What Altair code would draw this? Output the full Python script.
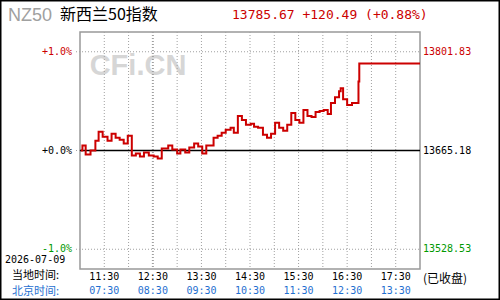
import altair as alt
import pandas as pd

# ---------------- data ----------------
BASE = 13665.18
times = ["11:01", "11:03", "11:07", "11:13", "11:19", "11:23", "11:28", "11:34", "11:39", "11:44",
         "11:49", "11:54", "11:59", "12:04", "12:09", "12:14", "12:19", "12:25", "12:31", "12:36",
         "12:41", "12:49", "12:54", "13:00", "13:04", "13:10", "13:15", "13:21", "13:26", "13:31",
         "13:36", "13:45", "13:50", "13:55", "14:00", "14:06", "14:10", "14:15", "14:20", "14:25",
         "14:31", "14:35", "14:40", "14:46", "14:51", "14:56", "15:01", "15:06", "15:11", "15:16",
         "15:21", "15:26", "15:31", "15:36", "15:41", "15:46", "15:51", "15:56", "16:01", "16:06",
         "16:10", "16:15", "16:20", "16:22", "16:25", "16:30", "16:36", "16:44", "16:45", "18:00"]
pct = [0.00, 0.05, -0.04, 0.00, 0.10, 0.19, 0.14, 0.10, 0.17, 0.13,
       0.11, 0.07, 0.15, -0.05, -0.03, -0.06, -0.02, -0.05, -0.06, -0.08,
       0.02, 0.05, 0.01, -0.03, 0.01, -0.02, 0.03, 0.07, 0.04, -0.03,
       0.05, 0.13, 0.15, 0.18, 0.21, 0.23, 0.18, 0.35, 0.31, 0.26,
       0.27, 0.24, 0.23, 0.16, 0.13, 0.17, 0.28, 0.23, 0.20, 0.26,
       0.38, 0.31, 0.28, 0.41, 0.35, 0.34, 0.39, 0.40, 0.41, 0.37,
       0.48, 0.54, 0.60, 0.63, 0.52, 0.46, 0.48, 0.70, 0.88, 0.88]

grid_times = ["11:30", "12:00", "12:30", "13:00", "13:30", "14:00", "14:30",
              "15:00", "15:30", "16:00", "16:30", "17:00", "17:30"]
tick_local = ["11:30", "12:30", "13:30", "14:30", "15:30", "16:30", "17:30"]
tick_beijing = ["07:30", "08:30", "09:30", "10:30", "11:30", "12:30", "13:30"]

y_levels = [1.0, 0.0, -1.0]
y_left_labels = ["+1.0%", "+0.0%", "-1.0%"]
y_right_labels = ["13801.83", "13665.18", "13528.53"]
y_label_colors = ["#cc0000", "#000000", "#009900"]

title_code = "NZ50"
title_name = "新西兰50指数"
title_quote = "13785.67 +120.49 (+0.88%)"
date_text = "2026-07-09"


def to_min(s):
    h, m = s.split(":")
    return (int(h) - 11) * 60 + int(m)


df = pd.DataFrame({"m": [to_min(t) for t in times], "p": pct})
grid_df = pd.DataFrame({"m": [to_min(t) for t in grid_times]})
xt_df = pd.DataFrame({"m": [to_min(t) for t in tick_local], "loc": tick_local, "bj": tick_beijing})
yl_df = pd.DataFrame({"p": y_levels, "l": y_left_labels, "r": y_right_labels, "c": y_label_colors})

# ---------------- layout ----------------
W, H = 340, 237
OX, OY = 80, 32
xs = alt.Scale(domain=[0, 420], nice=False, zero=False)
ys = alt.Scale(domain=[-1.2, 1.2], nice=False, zero=False)
MONO = "DejaVu Sans Mono"
CJK = "Noto Sans CJK SC"


def X(field="m"):
    return alt.X(f"{field}:Q", scale=xs, axis=None)


def Y(field="p"):
    return alt.Y(f"{field}:Q", scale=ys, axis=None)


def note(text, x, y, color, size, font, weight="normal", align="left"):
    return alt.Chart(pd.DataFrame({"s": [text]})).mark_text(
        align=align, baseline="middle", fontSize=size, font=font,
        fontWeight=weight, color=color
    ).encode(text="s:N", x=alt.value(x - OX), y=alt.value(y - OY))


watermark = note("CFi.CN", 138, 66, "#d6d6d6", 29, "Liberation Sans", "bold", "center")

vgrid = alt.Chart(grid_df).mark_rule(color="#a0a0a0", strokeDash=[1, 2]).encode(
    x=X(),
    strokeWidth=alt.condition(alt.datum.m == 90, alt.value(2), alt.value(1)),
)

hgrid = alt.Chart(yl_df).mark_rule(color="#a0a0a0", strokeDash=[1, 2], strokeWidth=1).encode(
    y=Y(), x=alt.value(-4), x2=alt.value(W)
)

zero = alt.Chart(pd.DataFrame({"p": [0.0]})).mark_rule(color="black", strokeWidth=1.6).encode(
    y=Y(), x=alt.value(0), x2=alt.value(W)
)

line = alt.Chart(df).mark_line(interpolate="step-after", color="#cc0000", strokeWidth=2).encode(
    x=X(), y=Y()
)

left_lab = alt.Chart(yl_df).mark_text(align="right", baseline="middle", font=MONO, fontSize=10).encode(
    y=Y(), x=alt.value(-8), text="l:N", color=alt.Color("c:N", scale=None)
)
right_lab = alt.Chart(yl_df).mark_text(align="left", baseline="middle", font=MONO, fontSize=10).encode(
    y=Y(), x=alt.value(W + 3), text="r:N", color=alt.Color("c:N", scale=None)
)

x_local = alt.Chart(xt_df).mark_text(align="center", baseline="middle", font=MONO, fontSize=10,
                                     color="black").encode(
    x=X(), y=alt.value(277 - OY), text="loc:N"
)
x_bj = alt.Chart(xt_df).mark_text(align="center", baseline="middle", font=MONO, fontSize=10,
                                  color="#1f6fd0").encode(
    x=X(), y=alt.value(291 - OY), text="bj:N"
)

notes = [
    note(title_code, 8, 16, "#a0a0a0", 18, "Liberation Sans"),
    note(title_name, 60, 15, "black", 16, CJK),
    note(title_quote, 232, 15, "#cc0000", 13, MONO),
    note(date_text, 5, 260, "black", 10, MONO),
    note("当地时间:", 12, 276, "black", 11, CJK),
    note("北京时间:", 12, 292, "#1f6fd0", 11, CJK),
    note("(已收盘)", 423, 279, "black", 12, CJK),
]

frame = alt.Chart(pd.DataFrame({"s": [0]})).mark_rect(
    fill=None, fillOpacity=0, stroke="black", strokeWidth=1.5
).encode(
    x=alt.value(0.75 - OX), x2=alt.value(499.25 - OX),
    y=alt.value(0.75 - OY), y2=alt.value(299.25 - OY)
)

chart = alt.layer(
    watermark, vgrid, hgrid, zero, line, left_lab, right_lab, x_local, x_bj, *notes, frame
).properties(
    width=W, height=H,
    padding={"left": OX, "top": OY, "right": 500 - OX - W, "bottom": 300 - OY - H},
    autosize=alt.AutoSizeParams(type="none"),
    background="white",
).configure_view(stroke="#999999", strokeWidth=1.5)

chart.save("out.html", embed_options={"renderer": "svg", "actions": False})
